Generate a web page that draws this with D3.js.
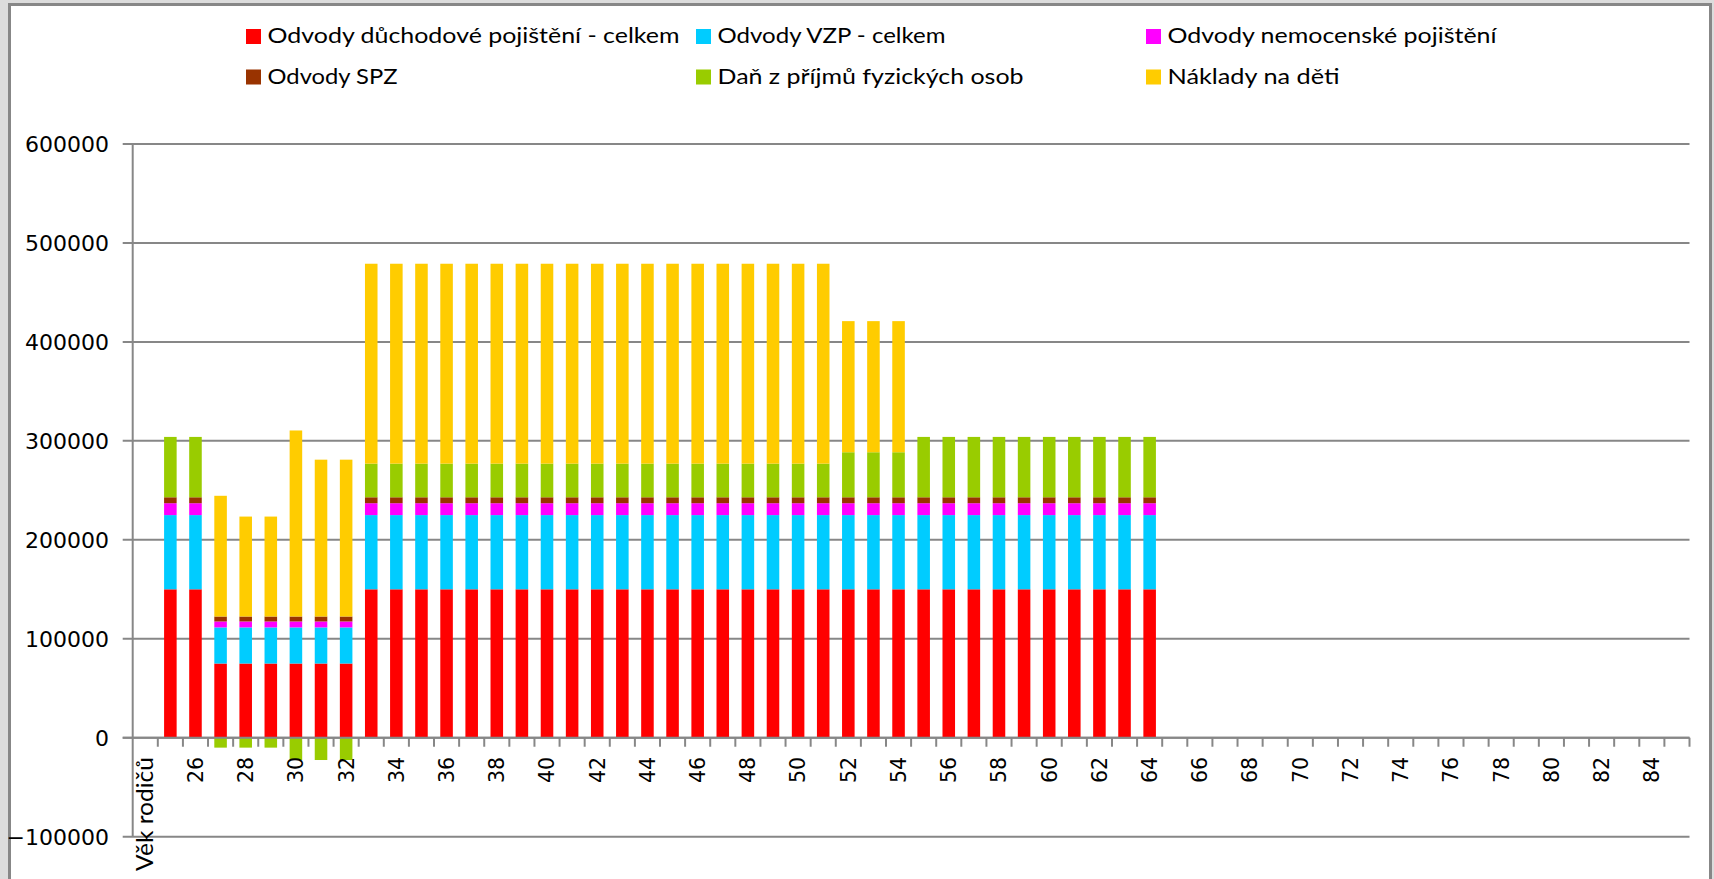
<!DOCTYPE html>
<html>
<head>
<meta charset="utf-8">
<script src="https://cdn.jsdelivr.net/npm/d3@7/dist/d3.min.js"></script>
<style>
  html, body { margin: 0; padding: 0; background: #dcdcdc; }
  svg { display: block; }
</style>
</head>
<body>
<svg id="chart" width="1714" height="879"></svg>
<script>
// ---------- DATA ----------
const categories = ["Věk rodičů",
  "25","26","27","28","29","30","31","32","33","34","35","36","37","38","39","40",
  "41","42","43","44","45","46","47","48","49","50","51","52","53","54","55","56",
  "57","58","59","60","61","62","63","64","65","66","67","68","69","70","71","72",
  "73","74","75","76","77","78","79","80","81","82","83","84","85"];

// values for ages 25..64 (later ages have no bars)
const duchodove = [150000,150000,75000,75000,75000,75000,75000,75000,
  150000,150000,150000,150000,150000,150000,150000,150000,150000,150000,
  150000,150000,150000,150000,150000,150000,150000,150000,150000,150000,
  150000,150000,150000,150000,150000,150000,150000,150000,150000,150000,150000,150000];
const vzp = [75000,75000,36500,36500,36500,36500,36500,36500,
  75000,75000,75000,75000,75000,75000,75000,75000,75000,75000,
  75000,75000,75000,75000,75000,75000,75000,75000,75000,75000,
  75000,75000,75000,75000,75000,75000,75000,75000,75000,75000,75000,75000];
const nemocenske = [12000,12000,6000,6000,6000,6000,6000,6000,
  12000,12000,12000,12000,12000,12000,12000,12000,12000,12000,
  12000,12000,12000,12000,12000,12000,12000,12000,12000,12000,
  12000,12000,12000,12000,12000,12000,12000,12000,12000,12000,12000,12000];
const spz = [6000,6000,5000,5000,5000,5000,5000,5000,
  6000,6000,6000,6000,6000,6000,6000,6000,6000,6000,
  6000,6000,6000,6000,6000,6000,6000,6000,6000,6000,
  6000,6000,6000,6000,6000,6000,6000,6000,6000,6000,6000,6000];
const dan = [61000,61000,-10000,-10000,-10000,-22500,-22500,-22500,
  34000,34000,34000,34000,34000,34000,34000,34000,34000,34000,
  34000,34000,34000,34000,34000,34000,34000,34000,34000,
  45500,45500,45500,
  61000,61000,61000,61000,61000,61000,61000,61000,61000,61000];
const naklady = [0,0,122000,101000,101000,188000,158500,158500,
  202000,202000,202000,202000,202000,202000,202000,202000,202000,202000,
  202000,202000,202000,202000,202000,202000,202000,202000,202000,
  132500,132500,132500,
  0,0,0,0,0,0,0,0,0,0];

const seriesNames = ["Odvody důchodové pojištění - celkem", "Odvody VZP - celkem",
  "Odvody nemocenské pojištění", "Odvody SPZ", "Daň z příjmů fyzických osob", "Náklady na děti"];
const seriesColors = ["#FF0000", "#00CCFF", "#FF00FF", "#993300", "#99CC00", "#FFCC00"];
const yTicks = [-100000, 0, 100000, 200000, 300000, 400000, 500000, 600000];

// ---------- BUILD TABLE ----------
const seriesValues = [duchodove, vzp, nemocenske, spz, dan, naklady];
const keys = seriesNames;
const table = categories.map((c, i) => {
  const row = { cat: c };
  keys.forEach((k, s) => {
    const idx = i - 1; // index into age arrays
    row[k] = (idx >= 0 && idx < seriesValues[s].length) ? seriesValues[s][idx] : 0;
  });
  return row;
});

// ---------- LAYOUT ----------
const svg = d3.select("#chart");
const W = 1714, H = 879;
const plot = { left: 132.7, right: 1689.5, top: 144, bottom: 836.7 };

// frame
svg.append("rect").attr("x", 0).attr("y", 0).attr("width", W).attr("height", H).attr("fill", "#dcdcdc");
svg.append("rect").attr("x", 9.5).attr("y", 4.5).attr("width", 1701).attr("height", 920)
  .attr("fill", "#ffffff").attr("stroke", "#878787").attr("stroke-width", 3);

const x = d3.scaleBand().domain(categories).range([plot.left, plot.right])
  .paddingInner(0.5).paddingOuter(0.25);
const y = d3.scaleLinear().domain([-100000, 600000]).range([plot.bottom, plot.top]);

const gridColor = "#878787";

// gridlines (extend left as tick marks)
svg.append("g").selectAll("line").data(yTicks).join("line")
  .attr("x1", plot.left - 10).attr("x2", plot.right)
  .attr("y1", d => y(d)).attr("y2", d => y(d))
  .attr("stroke", gridColor).attr("stroke-width", 2);

// y axis line
svg.append("line").attr("x1", plot.left).attr("x2", plot.left)
  .attr("y1", y(600000)).attr("y2", y(-100000))
  .attr("stroke", gridColor).attr("stroke-width", 2);

// y tick labels
svg.append("g").selectAll("text").data(yTicks).join("text")
  .attr("x", 109).attr("y", d => y(d)).attr("dy", "0.36em")
  .attr("text-anchor", "end")
  .attr("font-family", "DejaVu Sans, sans-serif").attr("font-size", 22)
  .attr("fill", "#000").text(d => d3.format("d")(d));

// x axis ticks at category boundaries
const y0 = y(0);
svg.append("g").selectAll("line").data(categories).join("line")
  .attr("x1", d => x(d) + x.bandwidth() / 2 + x.step() / 2)
  .attr("x2", d => x(d) + x.bandwidth() / 2 + x.step() / 2)
  .attr("y1", y0).attr("y2", y0 + 9)
  .attr("stroke", gridColor).attr("stroke-width", 2);

// stacked bars
const stack = d3.stack().keys(keys).offset(d3.stackOffsetDiverging);
const stacked = stack(table);
const gBars = svg.append("g");
stacked.forEach((layer, s) => {
  gBars.append("g").attr("fill", seriesColors[s])
    .selectAll("rect").data(layer.filter(d => d[1] !== d[0])).join("rect")
    .attr("x", d => x(d.data.cat))
    .attr("width", x.bandwidth())
    .attr("y", d => y(Math.max(d[0], d[1])))
    .attr("height", d => Math.abs(y(d[0]) - y(d[1])));
});

// x axis line
svg.append("line").attr("x1", plot.left - 10).attr("x2", plot.right)
  .attr("y1", y0).attr("y2", y0).attr("stroke", gridColor).attr("stroke-width", 2);

// x tick labels (rotated)
const shownLabels = categories.filter(c => c === "Věk rodičů" || (+c % 2 === 0));
svg.append("g").selectAll("text").data(shownLabels).join("text")
  .attr("transform", d => `translate(${x(d) + x.bandwidth() / 2},757) rotate(-90)`)
  .attr("text-anchor", "end").attr("dy", "0.36em")
  .attr("font-family", d => d === "Věk rodičů" ? "Lato, sans-serif" : "DejaVu Sans, sans-serif")
  .attr("font-size", d => d === "Věk rodičů" ? 22.5 : 20.5)
  .attr("fill", "#000")
  .each(function(d) {
    if (d === "Věk rodičů") d3.select(this).attr("textLength", 114).attr("lengthAdjust", "spacingAndGlyphs");
  })
  .text(d => d);

// legend
const legendPos = [
  { sx: 246, tx: 267.5, row: 0, len: 412 },
  { sx: 696, tx: 717.5, row: 0, len: 228 },
  { sx: 1146, tx: 1167.5, row: 0, len: 329 },
  { sx: 246, tx: 267.5, row: 1, len: 130 },
  { sx: 696, tx: 717.5, row: 1, len: 306 },
  { sx: 1146, tx: 1167.5, row: 1, len: 172 }
];
const rowY = [43, 83.5];
const lg = svg.append("g");
seriesNames.forEach((name, i) => {
  const p = legendPos[i];
  lg.append("rect").attr("x", p.sx).attr("y", rowY[p.row] - 14).attr("width", 15).attr("height", 15)
    .attr("fill", seriesColors[i]);
  lg.append("text").attr("x", p.tx).attr("y", rowY[p.row])
    .attr("font-family", "Lato, sans-serif").attr("font-size", 21.5).attr("fill", "#000")
    .attr("textLength", p.len).attr("lengthAdjust", "spacingAndGlyphs")
    .text(name);
});
</script>
</body>
</html>
